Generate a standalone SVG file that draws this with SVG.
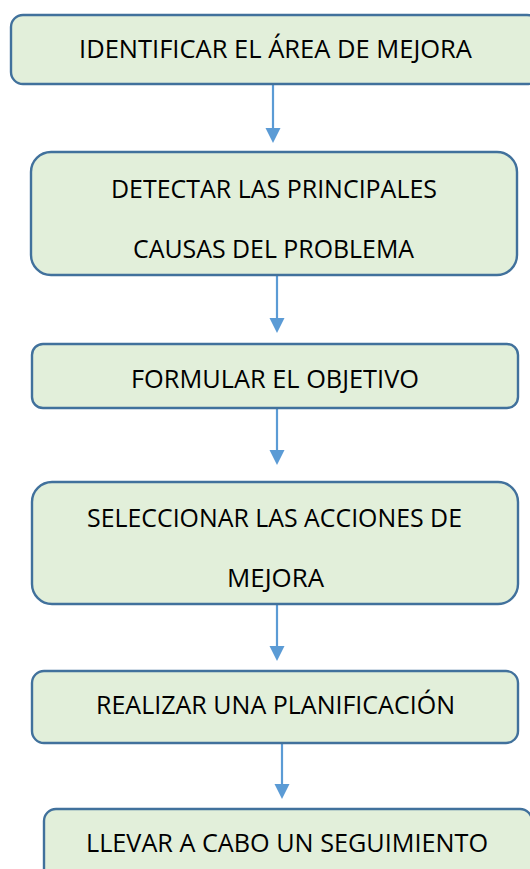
<svg xmlns="http://www.w3.org/2000/svg" width="530" height="869" viewBox="0 0 530 869">
<defs>
<style>
.box{fill:#E2EFDA;stroke:#41719C;stroke-width:2.4}
.t{font-family:"Open Sans","Liberation Sans",sans-serif;font-size:25px;fill:#000;text-anchor:middle}
.c{stroke:#5B9BD5;stroke-width:2.2;fill:none}
.h{fill:#5B9BD5}
</style>
</defs>
<rect width="530" height="869" fill="#fff"/>
<g id="connectors">
<line class="c" x1="273" y1="84" x2="273" y2="130"/><polygon class="h" points="265.5,128 280.5,128 273,143"/>
<line class="c" x1="277" y1="275" x2="277" y2="320"/><polygon class="h" points="269.5,318 284.5,318 277,333"/>
<line class="c" x1="277" y1="408" x2="277" y2="452"/><polygon class="h" points="269.5,450 284.5,450 277,465"/>
<line class="c" x1="277" y1="604" x2="277" y2="648"/><polygon class="h" points="269.5,646 284.5,646 277,661"/>
<line class="c" x1="282" y1="743" x2="282" y2="786"/><polygon class="h" points="274.5,784 289.5,784 282,799"/>
</g>
<g id="n1"><rect class="box" x="11" y="15" width="528" height="69" rx="12"/>
<text class="t" x="275.5" y="58" textLength="393" lengthAdjust="spacingAndGlyphs">IDENTIFICAR EL ÁREA DE MEJORA</text></g>
<g id="n2"><rect class="box" x="31" y="152" width="486" height="123" rx="20"/>
<text class="t" x="274" y="198" textLength="326" lengthAdjust="spacingAndGlyphs">DETECTAR LAS PRINCIPALES</text>
<text class="t" x="273.5" y="258" textLength="281" lengthAdjust="spacingAndGlyphs">CAUSAS DEL PROBLEMA</text></g>
<g id="n3"><rect class="box" x="32" y="344" width="486" height="64" rx="11"/>
<text class="t" x="275" y="388" textLength="288" lengthAdjust="spacingAndGlyphs">FORMULAR EL OBJETIVO</text></g>
<g id="n4"><rect class="box" x="32" y="482" width="486" height="122" rx="20"/>
<text class="t" x="274.5" y="527" textLength="375" lengthAdjust="spacingAndGlyphs">SELECCIONAR LAS ACCIONES DE</text>
<text class="t" x="275.5" y="587" textLength="97" lengthAdjust="spacingAndGlyphs">MEJORA</text></g>
<g id="n5"><rect class="box" x="32" y="671" width="486" height="72" rx="12"/>
<text class="t" x="275.5" y="714" textLength="359" lengthAdjust="spacingAndGlyphs">REALIZAR UNA PLANIFICACIÓN</text></g>
<g id="n6"><rect class="box" x="44" y="809" width="488" height="80" rx="12"/>
<text class="t" x="287" y="852" textLength="402" lengthAdjust="spacingAndGlyphs">LLEVAR A CABO UN SEGUIMIENTO</text></g>
</svg>
